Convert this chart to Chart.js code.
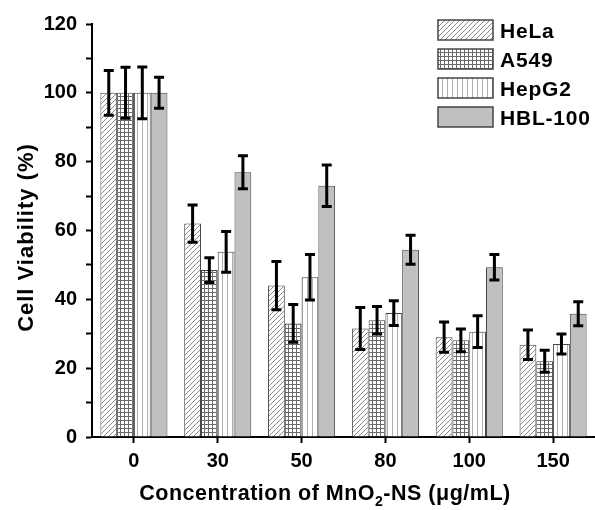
<!DOCTYPE html>
<html>
<head>
<meta charset="utf-8">
<script src="https://cdn.jsdelivr.net/npm/chart.js@4.4.1/dist/chart.umd.min.js"></script>
<style>
  html, body { margin: 0; padding: 0; background: #fff; }
  #wrap { width: 595px; height: 510px; }
</style>
</head>
<body>
<div id="wrap"><canvas id="viabilityChart" width="595" height="510"></canvas></div>
<script>
// Concentrations (µg/mL)
const categories = ['0', '30', '50', '80', '100', '150'];

// Cell lines
const seriesNames = ['HeLa', 'A549', 'HepG2', 'HBL-100'];

// Mean viability (%)
const helaValues   = [100, 62.0, 44.0, 31.5, 29.0, 26.8];
const a549Values   = [100, 48.5, 33.0, 33.9, 28.1, 22.0];
const hepg2Values  = [100, 53.8, 46.4, 36.0, 30.6, 27.0];
const hbl100Values = [100, 76.9, 73.0, 54.4, 49.3, 35.8];

// Standard deviations
const helaErrors   = [6.5, 5.4, 7.0, 6.1, 4.4, 4.3];
const a549Errors   = [7.4, 3.6, 5.5, 4.0, 3.3, 3.2];
const hepg2Errors  = [7.5, 5.9, 6.6, 3.6, 4.6, 2.9];
const hbl100Errors = [4.5, 4.8, 6.0, 4.2, 3.7, 3.5];

const yTicks = [0, 20, 40, 60, 80, 100, 120];

const FONT = '"Liberation Sans", Arial, sans-serif';

function makePattern(w, h, draw) {
    const c = document.createElement('canvas');
    c.width = w;
    c.height = h;
    const g = c.getContext('2d');
    g.fillStyle = '#ffffff';
    g.fillRect(0, 0, w, h);
    draw(g, w, h);
    return document.getElementById('viabilityChart').getContext('2d').createPattern(c, 'repeat');
}

const diagPattern = makePattern(5, 5, (g, w, h) => {
    g.strokeStyle = '#8a8a8a';
    g.lineWidth = 1;
    g.beginPath();
    g.moveTo(-1, h + 1); g.lineTo(w + 1, -1);
    g.moveTo(-1, 1); g.lineTo(1, -1);
    g.moveTo(w - 1, h + 1); g.lineTo(w + 1, h - 1);
    g.stroke();
});

const gridPattern = makePattern(4, 4, (g) => {
    g.fillStyle = '#6a6a6a';
    g.fillRect(0, 0, 4, 1);
    g.fillRect(0, 0, 1, 4);
});

const vertPattern = makePattern(5, 1, (g) => {
    g.fillStyle = '#b0b0b0';
    g.fillRect(2, 0, 1, 1);
});

const fills = [diagPattern, gridPattern, vertPattern, '#c0c0c0'];
const allValues = [helaValues, a549Values, hepg2Values, hbl100Values];
const allErrors = [helaErrors, a549Errors, hepg2Errors, hbl100Errors];

// Error bars drawn from the y scale
const errorBars = {
    id: 'errorBars',
    afterDatasetsDraw(chart) {
        const ctx = chart.ctx;
        const yScale = chart.scales.y;
        ctx.save();
        ctx.strokeStyle = '#000';
        ctx.lineWidth = 3;
        chart.data.datasets.forEach((ds, i) => {
            const meta = chart.getDatasetMeta(i);
            meta.data.forEach((bar, j) => {
                const v = ds.data[j];
                const e = ds.errors[j];
                const yTop = yScale.getPixelForValue(v + e);
                const yBot = yScale.getPixelForValue(v - e);
                const x = bar.x;
                ctx.beginPath();
                ctx.moveTo(x, yTop); ctx.lineTo(x, yBot);
                ctx.moveTo(x - 5, yTop); ctx.lineTo(x + 5, yTop);
                ctx.moveTo(x - 5, yBot); ctx.lineTo(x + 5, yBot);
                ctx.stroke();
            });
        });
        ctx.restore();
    }
};

// Legend inside the plot, top right
const boxLegend = {
    id: 'boxLegend',
    afterDraw(chart) {
        const ctx = chart.ctx;
        const area = chart.chartArea;
        const bx = area.right - 157;
        ctx.save();
        chart.data.datasets.forEach((ds, i) => {
            const by = area.top - 4 + i * 29;
            ctx.fillStyle = ds.backgroundColor;
            ctx.fillRect(bx, by, 55, 20);
            ctx.strokeStyle = '#444';
            ctx.lineWidth = 1.5;
            ctx.strokeRect(bx, by, 55, 20);
            ctx.fillStyle = '#000';
            ctx.font = 'bold 21px ' + FONT;
            ctx.letterSpacing = '0.8px';
            ctx.textBaseline = 'alphabetic';
            ctx.fillText(ds.label, bx + 62, by + 18);
        });
        ctx.restore();
    }
};

// Axis titles (x title carries a real subscript 2)
const axisTitles = {
    id: 'axisTitles',
    afterDraw(chart) {
        const ctx = chart.ctx;
        const area = chart.chartArea;
        ctx.save();
        ctx.fillStyle = '#000';
        ctx.textBaseline = 'alphabetic';
        ctx.letterSpacing = '0.5px';

        // x title
        const parts = [
            { t: 'Concentration of MnO', size: 21.5, dy: 0 },
            { t: '2', size: 14, dy: 6 },
            { t: '-NS (\u03bcg/mL)', size: 21.5, dy: 0 }
        ];
        let total = 0;
        parts.forEach(p => {
            ctx.font = 'bold ' + p.size + 'px ' + FONT;
            p.w = ctx.measureText(p.t).width;
            total += p.w;
        });
        let x = area.left + 233 - total / 2;
        const baseY = 500;
        ctx.textAlign = 'left';
        parts.forEach(p => {
            ctx.font = 'bold ' + p.size + 'px ' + FONT;
            ctx.fillText(p.t, x, baseY + p.dy);
            x += p.w;
        });

        // y title
        ctx.font = 'bold 22px ' + FONT;
        ctx.letterSpacing = '1px';
        ctx.translate(33, (area.top + area.bottom) / 2 + 7);
        ctx.rotate(-Math.PI / 2);
        ctx.textAlign = 'center';
        ctx.fillText('Cell Viability (%)', 0, 0);
        ctx.restore();
    }
};

const ctx = document.getElementById('viabilityChart').getContext('2d');

new Chart(ctx, {
    type: 'bar',
    data: {
        labels: categories,
        datasets: seriesNames.map((name, i) => ({
            label: name,
            data: allValues[i],
            errors: allErrors[i],
            backgroundColor: fills[i],
            borderColor: '#444',
            borderWidth: 1,
            barPercentage: 1.0,
            categoryPercentage: 0.8
        }))
    },
    options: {
        responsive: false,
        animation: false,
        layout: { padding: { top: 24, right: 0, left: 0, bottom: 0 } },
        plugins: {
            legend: { display: false },
            tooltip: { enabled: false }
        },
        scales: {
            x: {
                offset: true,
                border: { color: '#000', width: 2 },
                grid: {
                    offset: false,
                    drawOnChartArea: false,
                    drawTicks: true,
                    tickLength: 6,
                    tickWidth: 2,
                    tickColor: '#000'
                },
                ticks: {
                    color: '#000',
                    padding: 6,
                    font: { family: FONT, size: 20, weight: 'bold' }
                },
                afterFit(scale) { scale.height = 73; }
            },
            y: {
                min: 0,
                max: 120,
                border: { color: '#000', width: 2 },
                grid: {
                    drawOnChartArea: false,
                    drawTicks: true,
                    tickLength: 6,
                    tickWidth: 2,
                    tickColor: '#000'
                },
                ticks: {
                    stepSize: 10,
                    autoSkip: false,
                    color: '#000',
                    padding: 9,
                    font: { family: FONT, size: 20, weight: 'bold' },
                    callback: (value) => yTicks.includes(value) ? value : ''
                },
                afterFit(scale) { scale.width = 92; }
            }
        }
    },
    plugins: [errorBars, boxLegend, axisTitles]
});
</script>
</body>
</html>
